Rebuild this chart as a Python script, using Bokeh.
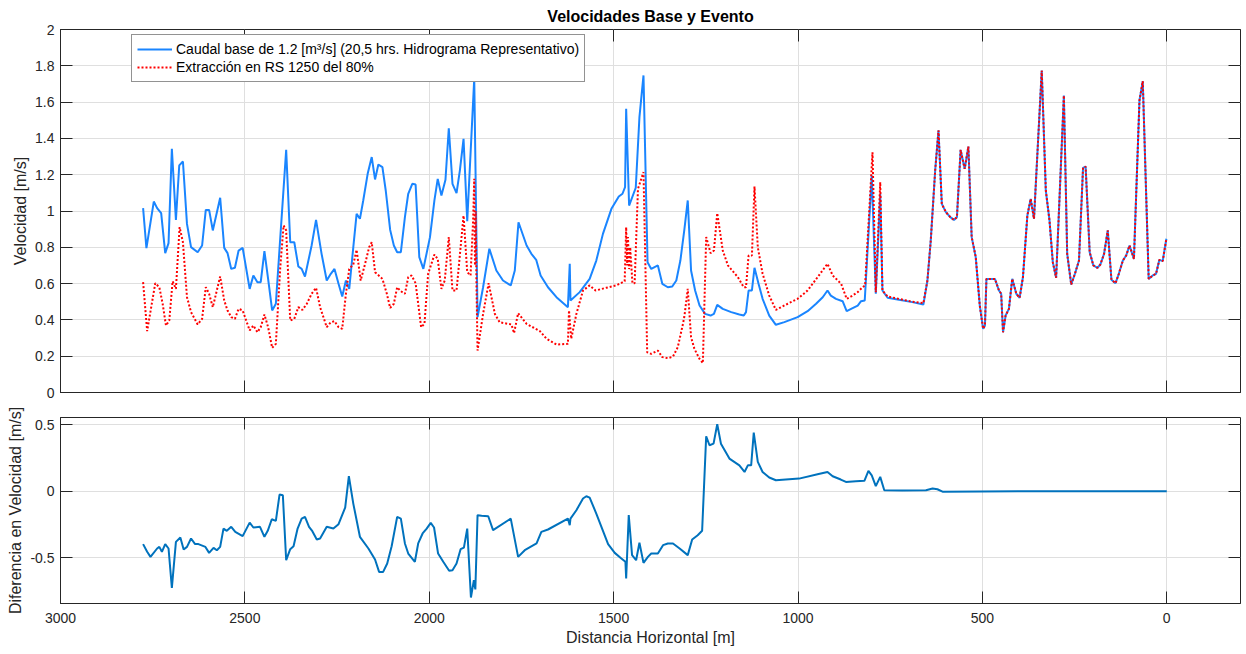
from bokeh.plotting import figure
from bokeh.models import (Range1d, LinearAxis, FixedTicker, CustomJSTickFormatter,
                          Legend, LegendItem)
from bokeh.layouts import column
from bokeh.embed import file_html
from bokeh.resources import INLINE

# ---------------- data ----------------
# Base flow, upstream part (x in m, velocity in m/s)
x_base_up = [2776, 2767, 2747, 2738, 2727, 2716, 2707, 2698, 2687, 2678, 2668, 2657, 2646, 2628,
             2616, 2606, 2597, 2587, 2567, 2556, 2547, 2537, 2527, 2517, 2506, 2487, 2477, 2466,
             2457, 2447, 2437, 2426, 2416, 2388, 2377, 2366, 2355, 2346, 2337, 2319, 2307, 2292,
             2278, 2267, 2257, 2246, 2236, 2226, 2217, 2206, 2197, 2188, 2179, 2167, 2156, 2147,
             2138, 2127, 2118, 2106, 2096, 2087, 2077, 2066, 2057, 2046, 2037, 2027, 2016, 1998,
             1986, 1977, 1967, 1956, 1947, 1937, 1926, 1917, 1907, 1897, 1878, 1869, 1854, 1837,
             1818, 1800, 1779, 1768, 1758, 1736, 1723, 1710, 1698, 1678, 1655, 1624, 1619, 1617,
             1592, 1565, 1547, 1529, 1506, 1486, 1476, 1469, 1466, 1458, 1440, 1430, 1419, 1408,
             1398, 1380, 1368, 1353, 1341, 1330, 1319, 1308, 1299, 1290, 1279, 1267, 1252, 1237,
             1228, 1219, 1204, 1181, 1159, 1147, 1141, 1134, 1125, 1118, 1107, 1096, 1078, 1060,
             1037, 1001, 974, 951, 933, 920, 911, 897, 879, 868, 856, 838, 829, 819, 800, 789,
             777, 771, 757, 726, 690, 660]
v_base_up = [1.016, 0.795, 1.052, 1.016, 0.988, 0.768, 0.823, 1.343, 0.951, 1.251, 1.273, 0.929,
             0.801, 0.773, 0.810, 1.006, 1.006, 0.893, 1.073, 0.797, 0.768, 0.681, 0.687, 0.782,
             0.797, 0.571, 0.645, 0.608, 0.608, 0.779, 0.626, 0.452, 0.489, 1.337, 0.828, 0.828,
             0.694, 0.681, 0.639, 0.810, 0.951, 0.764, 0.617, 0.654, 0.681, 0.599, 0.529, 0.617,
             0.571, 0.800, 0.984, 0.957, 1.058, 1.205, 1.297, 1.174, 1.256, 1.242, 1.113, 0.896,
             0.810, 0.773, 0.773, 0.966, 1.095, 1.150, 1.146, 0.746, 0.681, 0.856, 1.058, 1.177,
             1.085, 1.172, 1.456, 1.150, 1.098, 1.223, 1.398, 0.944, 1.730, 0.415, 0.580, 0.792,
             0.672, 0.617, 0.590, 0.672, 0.938, 0.810, 0.764, 0.731, 0.645, 0.580, 0.525, 0.470,
             0.709, 0.507, 0.553, 0.626, 0.727, 0.874, 1.012, 1.080, 1.095, 1.131, 1.563, 1.030,
             1.128, 1.517, 1.747, 0.718, 0.681, 0.700, 0.599, 0.580, 0.584, 0.617, 0.727, 0.900,
             1.058, 0.672, 0.562, 0.479, 0.433, 0.424, 0.433, 0.483, 0.461, 0.443, 0.430, 0.424,
             0.443, 0.562, 0.562, 0.687, 0.599, 0.516, 0.424, 0.373, 0.388, 0.415, 0.448, 0.489,
             0.525, 0.562, 0.534, 0.516, 0.503, 0.448, 0.461, 0.479, 0.503, 0.507, 1.196, 0.544,
             1.095, 0.562, 0.522, 0.511, 0.498, 0.485]

# Extraction event, upstream part
x_ext_up = [2776, 2765, 2754, 2743, 2732, 2723, 2714, 2705, 2696, 2687, 2677, 2668, 2657, 2646,
            2628, 2616, 2606, 2597, 2587, 2567, 2556, 2547, 2537, 2527, 2517, 2506, 2487, 2477,
            2466, 2457, 2447, 2437, 2426, 2416, 2404, 2395, 2388, 2377, 2366, 2355, 2344, 2332,
            2319, 2307, 2296, 2278, 2267, 2257, 2246, 2236, 2226, 2217, 2206, 2197, 2186, 2174,
            2163, 2156, 2147, 2127, 2115, 2106, 2096, 2087, 2077, 2066, 2057, 2048, 2037, 2022,
            2013, 2003, 1986, 1977, 1967, 1958, 1947, 1937, 1926, 1907, 1897, 1888, 1881, 1878,
            1876, 1874, 1872, 1869, 1854, 1839, 1822, 1809, 1786, 1777, 1770, 1759, 1736, 1700,
            1682, 1655, 1624, 1621, 1615, 1601, 1583, 1565, 1549, 1520, 1493, 1470, 1466, 1463,
            1461, 1458, 1455, 1449, 1443, 1434, 1419, 1409, 1398, 1380, 1368, 1353, 1339, 1326,
            1312, 1308, 1299, 1290, 1281, 1267, 1258, 1249, 1237, 1228, 1219, 1204, 1190, 1163,
            1147, 1141, 1134, 1125, 1118, 1109, 1096, 1078, 1060, 1028, 1001, 974, 947, 920, 906,
            883, 868, 856, 838, 825, 818, 798, 789, 777, 771, 757, 690, 660]
v_ext_up = [0.608, 0.338, 0.470, 0.602, 0.580, 0.489, 0.369, 0.397, 0.613, 0.571, 0.911, 0.828,
            0.525, 0.443, 0.375, 0.406, 0.580, 0.544, 0.470, 0.639, 0.507, 0.452, 0.415, 0.406,
            0.461, 0.452, 0.342, 0.369, 0.332, 0.360, 0.430, 0.360, 0.246, 0.268, 0.690, 0.920,
            0.893, 0.397, 0.406, 0.470, 0.455, 0.489, 0.544, 0.577, 0.470, 0.360, 0.387, 0.393,
            0.360, 0.351, 0.544, 0.681, 0.705, 0.786, 0.617, 0.709, 0.800, 0.828, 0.663, 0.626,
            0.544, 0.466, 0.489, 0.580, 0.558, 0.544, 0.635, 0.645, 0.602, 0.360, 0.378, 0.654,
            0.760, 0.736, 0.571, 0.617, 0.856, 0.562, 0.562, 0.975, 0.663, 0.645, 0.950, 1.177,
            0.700, 1.000, 0.600, 0.231, 0.433, 0.602, 0.433, 0.387, 0.378, 0.375, 0.327, 0.437,
            0.378, 0.338, 0.296, 0.264, 0.268, 0.452, 0.296, 0.433, 0.562, 0.590, 0.562, 0.577,
            0.590, 0.613, 0.911, 0.700, 0.856, 0.680, 0.800, 0.602, 0.602, 1.122, 1.214, 0.222,
            0.213, 0.231, 0.195, 0.189, 0.198, 0.250, 0.378, 0.420, 0.571, 0.305, 0.241, 0.185,
            0.162, 0.856, 0.768, 0.782, 0.988, 0.782, 0.700, 0.635, 0.580, 0.580, 0.755, 0.755,
            1.135, 0.800, 0.654, 0.534, 0.455, 0.489, 0.516, 0.562, 0.635, 0.709, 0.645, 0.599,
            0.516, 0.529, 0.553, 0.580, 0.590, 1.324, 0.553, 1.159, 0.562, 0.529, 0.500, 0.492]

# Downstream reach where both series coincide
x_shared = [649, 640, 628, 619, 610, 599, 587, 577, 569, 559, 548, 538, 529, 518, 507, 498, 493,
            489, 477, 466, 455, 449, 444, 437, 428, 419, 408, 399, 390, 378, 369, 360, 339, 328,
            318, 309, 300, 279, 270, 259, 249, 238, 227, 220, 209, 199, 188, 180, 170, 160, 150,
            139, 130, 119, 110, 101, 89, 74, 65, 49, 38, 29, 20, 11, 1]
v_shared = [0.617, 0.837, 1.223, 1.444, 1.039, 0.994, 0.966, 0.951, 0.966, 1.337, 1.232, 1.355,
            0.856, 0.746, 0.479, 0.351, 0.369, 0.626, 0.626, 0.626, 0.562, 0.544, 0.332, 0.424,
            0.461, 0.626, 0.544, 0.522, 0.635, 0.975, 1.067, 0.957, 1.774, 1.113, 0.948, 0.718,
            0.632, 1.636, 0.764, 0.595, 0.654, 0.727, 1.238, 1.245, 0.773, 0.700, 0.687, 0.705,
            0.764, 0.893, 0.621, 0.602, 0.654, 0.727, 0.755, 0.810, 0.736, 1.609, 1.715, 0.626,
            0.645, 0.654, 0.731, 0.724, 0.847]

# Velocity difference (event - base)
x_diff = [2776, 2765, 2756, 2738, 2732, 2725, 2716, 2707, 2698, 2687, 2675, 2666, 2657, 2646,
          2635, 2626, 2607, 2597, 2585, 2576, 2567, 2558, 2549, 2537, 2526, 2506, 2487, 2477,
          2459, 2447, 2438, 2427, 2416, 2406, 2397, 2388, 2377, 2368, 2357, 2346, 2337, 2326,
          2317, 2305, 2296, 2278, 2260, 2246, 2228, 2218, 2206, 2188, 2165, 2147, 2136, 2125,
          2114, 2102, 2087, 2077, 2066, 2057, 2039, 2030, 2018, 2007, 1996, 1987, 1976, 1962,
          1946, 1937, 1926, 1915, 1906, 1897, 1887, 1879, 1875, 1869, 1858, 1840, 1827, 1779,
          1759, 1741, 1709, 1696, 1678, 1624, 1619, 1617, 1601, 1583, 1574, 1565, 1547, 1515,
          1497, 1479, 1468, 1466, 1459, 1450, 1439, 1430, 1419, 1407, 1398, 1380, 1366, 1353,
          1339, 1321, 1299, 1287, 1272, 1260, 1249, 1240, 1229, 1219, 1209, 1186, 1159, 1145,
          1136, 1127, 1120, 1109, 1096, 1078, 1060, 997, 947, 920, 906, 884, 870, 843, 820, 809,
          800, 789, 777, 766, 717, 653, 635, 622, 608, 400, 200, 0]
d_diff = [-0.398, -0.456, -0.494, -0.431, -0.419, -0.456, -0.398, -0.431, -0.727, -0.381, -0.348,
          -0.439, -0.419, -0.356, -0.398, -0.398, -0.419, -0.464, -0.426, -0.444, -0.419, -0.281,
          -0.298, -0.268, -0.306, -0.338, -0.236, -0.273, -0.268, -0.343, -0.298, -0.211, -0.223,
          -0.025, -0.030, -0.519, -0.436, -0.414, -0.281, -0.206, -0.193, -0.268, -0.301, -0.363,
          -0.356, -0.268, -0.281, -0.248, -0.123, 0.113, -0.093, -0.343, -0.431, -0.514, -0.607,
          -0.607, -0.544, -0.414, -0.193, -0.206, -0.393, -0.469, -0.531, -0.393, -0.318, -0.281,
          -0.238, -0.273, -0.469, -0.531, -0.599, -0.594, -0.544, -0.436, -0.424, -0.281, -0.800,
          -0.669, -0.739, -0.180, -0.185, -0.188, -0.293, -0.206, -0.494, -0.444, -0.393, -0.306,
          -0.288, -0.206, -0.256, -0.206, -0.143, -0.055, -0.038, -0.048, -0.168, -0.398, -0.464,
          -0.506, -0.531, -0.657, -0.180, -0.481, -0.519, -0.388, -0.539, -0.494, -0.469, -0.469,
          -0.406, -0.393, -0.393, -0.431, -0.481, -0.363, -0.331, -0.298, 0.414, 0.346, 0.358,
          0.504, 0.358, 0.246, 0.195, 0.145, 0.195, 0.195, 0.441, 0.221, 0.145, 0.103, 0.083,
          0.095, 0.128, 0.145, 0.113, 0.088, 0.070, 0.075, 0.078, 0.153, 0.120, 0.038, 0.108,
          0.008, 0.005, 0.008, 0.020, 0.015, -0.003, 0.0, 0.0, 0.0]

x_ticks = [0, 500, 1000, 1500, 2000, 2500, 3000]
y_ticks_top = [0, 0.2, 0.4, 0.6, 0.8, 1.0, 1.2, 1.4, 1.6, 1.8, 2.0]
y_ticks_bot = [-0.5, 0, 0.5]

label_base = "Caudal base de 1.2 [m\u00b3/s] (20,5 hrs. Hidrograma Representativo)"
label_ext = "Extracci\u00f3n en RS 1250 del 80%"

x_base = x_base_up + x_shared
v_base = v_base_up + v_shared
x_ext = x_ext_up + x_shared
v_ext = v_ext_up + v_shared

# ---------------- styling ----------------
FONT = "Liberation Sans"
TXT = "#262626"
GRID = "#dfdfdf"
BLUE_TOP = "#1a85ff"
BLUE_BOT = "#0072bd"
RED = "#ff0000"

FW = 1180
fmt_code = "return (Math.round(tick*10)/10).toString();"

x_range = Range1d(3000, -200)


def style_axis(ax, ticks, labels=True):
    ax.ticker = FixedTicker(ticks=ticks)
    ax.formatter = CustomJSTickFormatter(code=fmt_code)
    ax.major_tick_in = 12
    ax.major_tick_out = 0
    ax.minor_tick_line_color = None
    ax.major_tick_line_color = TXT
    ax.axis_line_color = TXT
    ax.major_label_text_font = FONT
    if labels:
        ax.major_label_text_font_size = "14px"
        ax.major_label_text_color = TXT
        ax.major_label_standoff = 6
    else:
        ax.major_label_text_font_size = "0px"
        ax.major_label_text_color = None
        ax.major_label_standoff = 0
    ax.axis_label_text_font = FONT
    ax.axis_label_text_font_size = "16px"
    ax.axis_label_text_font_style = "normal"
    ax.axis_label_text_color = TXT
    ax.axis_label_standoff = 3


def make_fig(fh, y_range, yticks, min_top, min_bottom, xlabels):
    p = figure(frame_width=FW, frame_height=fh, x_range=x_range, y_range=y_range,
               output_backend="svg", toolbar_location=None,
               min_border_left=60, min_border_right=4,
               min_border_top=min_top, min_border_bottom=min_bottom)
    p.background_fill_color = "white"
    p.border_fill_color = "white"
    p.outline_line_color = TXT
    p.outline_line_width = 1
    xb = p.xaxis[0]
    yl = p.yaxis[0]
    style_axis(xb, x_ticks, labels=xlabels)
    style_axis(yl, yticks, labels=True)
    p.xgrid.ticker = FixedTicker(ticks=x_ticks)
    p.ygrid.ticker = FixedTicker(ticks=yticks)
    p.xgrid.grid_line_color = GRID
    p.ygrid.grid_line_color = GRID
    right = LinearAxis()
    style_axis(right, yticks, labels=False)
    right.axis_line_color = None
    p.add_layout(right, "right")
    top_ax = LinearAxis()
    style_axis(top_ax, x_ticks, labels=False)
    top_ax.axis_line_color = None
    p.add_layout(top_ax, "above")
    return p, xb, yl


# ---------------- top panel ----------------
top, top_xb, top_yl = make_fig(363, Range1d(0, 2), y_ticks_top, 29, 12, False)
top.title.text = "Velocidades Base y Evento"
top.title.align = "center"
top.title.text_font = FONT
top.title.text_font_size = "16px"
top.title.text_font_style = "bold"
top.title.text_color = "#000000"
top.title.standoff = 9
top_yl.axis_label = "Velocidad [m/s]"

r_base = top.line(x_base, v_base, line_color=BLUE_TOP, line_width=2)
r_ext = top.line(x_ext, v_ext, line_color=RED, line_width=2, line_dash="2 2")

legend = Legend(items=[LegendItem(label=label_base, renderers=[r_base]),
                       LegendItem(label=label_ext, renderers=[r_ext])],
                location=(71, 363 - 7 - 46))
legend.label_text_font = FONT
legend.label_text_font_size = "14px"
legend.label_text_color = "#000000"
legend.border_line_color = TXT
legend.border_line_width = 1
legend.background_fill_color = "white"
legend.background_fill_alpha = 1.0
legend.glyph_width = 35
legend.glyph_height = 18
legend.label_height = 18
legend.label_standoff = 4
legend.spacing = 0
legend.padding = 5
legend.margin = 0
top.add_layout(legend)

# ---------------- bottom panel ----------------
bot, bot_xb, bot_yl = make_fig(186, Range1d(-0.845, 0.555), y_ticks_bot, 13, 48, True)
bot_xb.axis_label = "Distancia Horizontal [m]"
bot_xb.major_label_standoff = 9
bot_xb.axis_label_standoff = 3
bot_yl.axis_label = "Diferencia en Velocidad [m/s]"
bot.line(x_diff, d_diff, line_color=BLUE_BOT, line_width=2)

layout = column(top, bot, spacing=0)

open("out.html", "w").write(file_html(layout, INLINE))
